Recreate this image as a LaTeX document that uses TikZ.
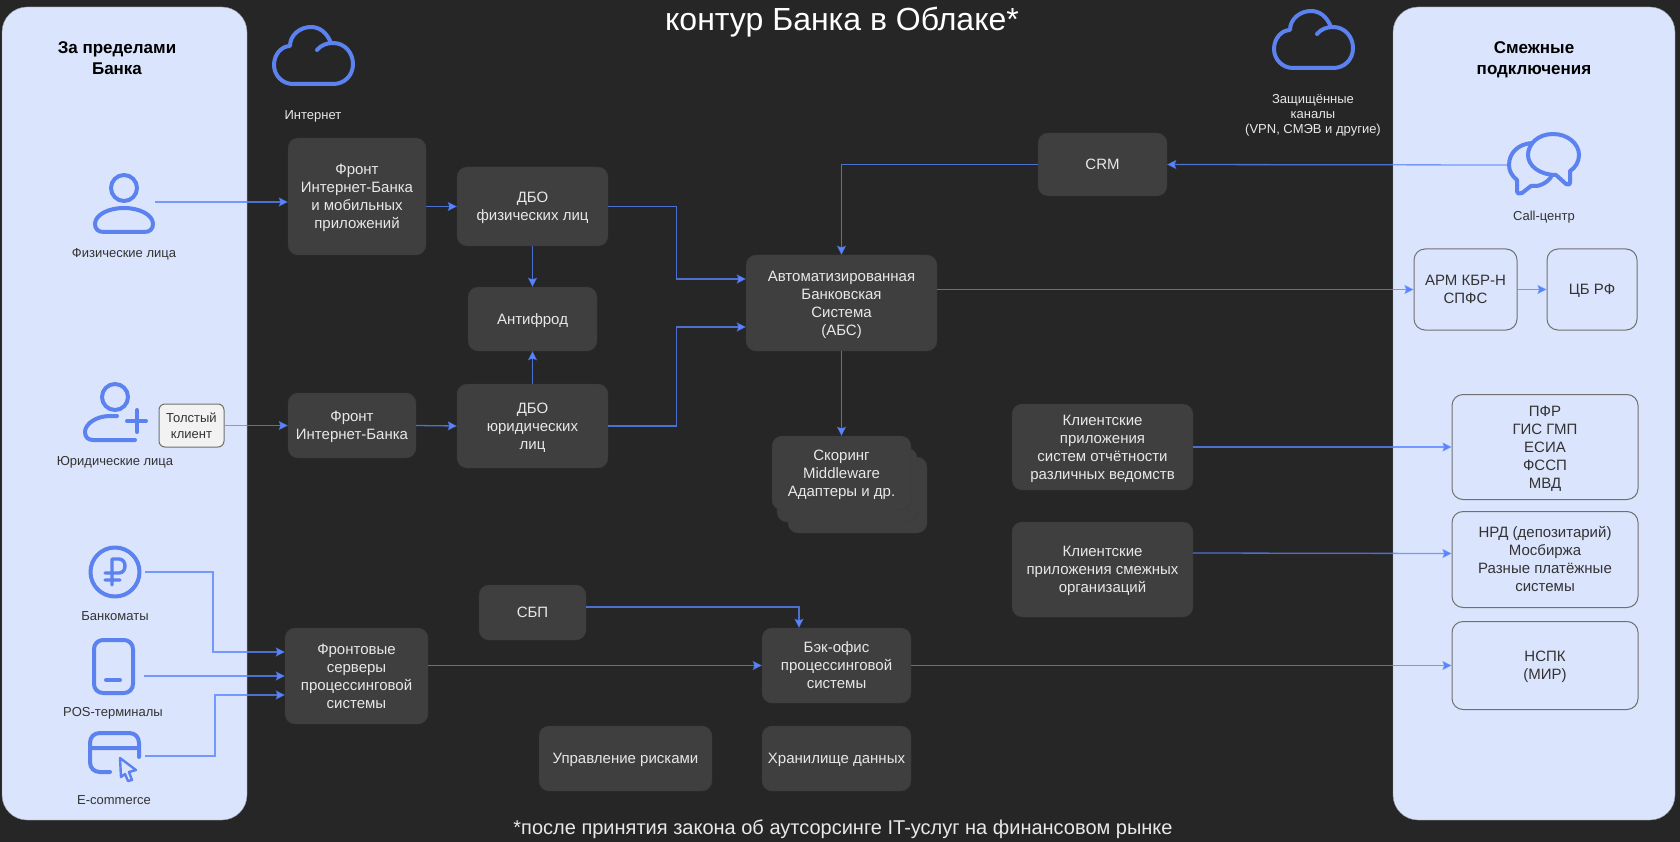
\documentclass[tikz,border=0pt]{standalone}
\usepackage{fontspec}
\setmainfont{Liberation Sans}
\usepackage{xcolor}
\usetikzlibrary{calc,positioning,arrows.meta}
\definecolor{bgdark}{HTML}{262626}
\definecolor{boxgrey}{HTML}{3F3F3F}
\definecolor{boxedge}{HTML}{383838}
\definecolor{boxtext}{HTML}{E8E8E8}
\definecolor{panelblue}{HTML}{DAE4FC}
\definecolor{paneledge}{HTML}{8C919C}
\definecolor{iconblue}{HTML}{5B82EE}
\definecolor{linkblue}{HTML}{5885FF}
\definecolor{darktext}{HTML}{333333}
\tikzset{
  darkbox/.style={draw=boxedge,fill=boxgrey,text=boxtext,rounded corners=10pt,inner sep=0pt,align=center,text height=10.7pt,text depth=0pt,font=\fontsize{15}{18}\selectfont},
  lightbox/.style={draw=darktext!70,line width=1pt,fill=panelblue,text=darktext,rounded corners=11pt,inner sep=0pt,align=center,text height=10.7pt,text depth=0pt,font=\fontsize{15}{18}\selectfont},
  panel/.style={draw=paneledge,fill=panelblue,rounded corners=25pt,inner sep=0pt,minimum width=245pt,minimum height=813pt},
  paneltitle/.style={text=black,align=center,text height=33pt,text depth=0pt,font=\bfseries\fontsize{17}{21}\selectfont},
  iconlabel/.style={text=darktext,text height=9.3pt,text depth=0pt,font=\fontsize{13}{15}\selectfont,align=center},
  darklabel/.style={text=boxtext,text height=9.3pt,text depth=0pt,font=\fontsize{13}{15}\selectfont,align=center},
  iconline/.style={draw=iconblue,line width=4pt,line cap=round,line join=round},
  link/.style={draw=linkblue,draw opacity=.78,line width=1.3pt,-{Stealth[length=9pt,width=9pt,inset=1.5pt]}},
  size/.style 2 args={minimum width=#1pt,minimum height=#2pt},
  lines2/.style={text height=28.7pt},
  lines3/.style={text height=46.7pt},
  lines4/.style={text height=64.7pt},
  lines5/.style={text height=82.7pt},
  cloudicon/.pic={
    \draw[iconline] (44,24) .. controls (48,19) and (54,17) .. (60,17) .. controls (72,17) and (80,27) .. (80,38) .. controls (80,50) and (71,58) .. (60,58) -- (20,58) .. controls (9,58) and (1,49) .. (1,39) .. controls (1,28) and (9,20) .. (17,20) .. controls (17,9) and (27,1) .. (38,1) .. controls (47,1) and (54,7) .. (58,17);
  }
}

\begin{document}
\begin{tikzpicture}[x=1pt,y=-1pt,node distance=100pt]
\useasboundingbox (0,0) rectangle (1680,842);
\fill[bgdark] (0,0) rectangle (1680,842);

\node (panelout) [panel] at (124.5,413.5) {};
\node (panelside) [panel,minimum width=282pt] at (1534,413.5) {};
\node (titleout) [paneltitle] at (117,58) {За пределами\\Банка};
\node (titleside) [paneltitle] at (1534,58) {Смежные\\подключения};
\node (maintitle) [text=white,text height=23pt,text depth=0pt,font=\fontsize{32}{36}\selectfont] at (842,19) {контур Банка в Облаке*};
\node (footnote) [text=boxtext,text height=14.3pt,text depth=0pt,font=\fontsize{20}{24}\selectfont] at (843,827) {*после принятия закона об аутсорсинге IT-услуг на финансовом рынке};

\pic at (273,26) {cloudicon};
\pic at (1273,10) {cloudicon};
\node (netlabel) [darklabel] at (313,115) {Интернет};
\node (safelabel) [darklabel,text height=39.3pt] at (1313,114) {Защищённые\\каналы\\(VPN, СМЭВ и другие)};

\draw[iconline] (124,188) circle (13);
\draw[iconline] (124,208) .. controls (108,208) and (95,215) .. (95,224) .. controls (95,229) and (98,232) .. (104,232) -- (144,232) .. controls (150,232) and (153,229) .. (153,224) .. controls (153,215) and (140,208) .. (124,208) -- cycle;
\node (fizlabel) [iconlabel] at (124,253) {Физические лица};

\draw[iconline] (115,397) circle (13);
\draw[iconline] (117,416) -- (110,416) .. controls (96,416) and (85,424) .. (85,432) .. controls (85,437) and (88,440) .. (93,440) -- (135,440);
\draw[iconline] (127,421) -- (146,421) (137,410) -- (137,432);
\node (yurlabel) [iconlabel] at (115,461) {Юридические лица};
\node (fatclient) [draw=darktext!70,line width=1pt,fill=black!5,text=darktext,rounded corners=6pt,inner sep=0pt,align=center,size={65}{43},text height=25.3pt,text depth=0pt,font=\fontsize{13}{16}\selectfont] at (191.5,425.5) {Толстый\\клиент};

\draw[iconline] (115,572) circle (24.5);
\draw[iconline,line width=3.4pt] (112,585) -- (112,559) -- (119,559) .. controls (127,559) and (127,573) .. (119,573) -- (105,573) (105,580) -- (120,580);
\node (atmlabel) [iconlabel] at (115,616) {Банкоматы};

\draw[iconline,rounded corners=9pt] (94,640) rectangle (133,693);
\draw[iconline] (106,680) -- (120,680);
\node (poslabel) [iconlabel] at (113,712) {POS-терминалы};

\draw[iconline] (110,772) -- (100,772) .. controls (94,772) and (90,768) .. (90,762) -- (90,743) .. controls (90,737) and (94,733) .. (100,733) -- (129,733) .. controls (135,733) and (139,737) .. (139,743) -- (139,757) (90,748) -- (139,748);
\draw[iconline,line width=2.4pt,fill=panelblue] (120,758) -- (136,770) -- (129,772) -- (132,780) -- (128,781) -- (125,774) -- (121,777) -- cycle;
\node (webshoplabel) [iconlabel] at (114,800) {E-commerce};

\draw[iconline] (1532,143) .. controls (1518,144) and (1509,153) .. (1509,165) .. controls (1509,171) and (1512,176) .. (1517,180) -- (1517,191) .. controls (1517,194) and (1520,194) .. (1522,193) -- (1531,186) .. controls (1538,187) and (1546,184) .. (1551,177);
\draw[iconline] (1553,134) .. controls (1568,134) and (1579,144) .. (1579,155) .. controls (1579,162) and (1575,168) .. (1570,171) -- (1570,182) .. controls (1570,185) and (1568,185) .. (1566,184) -- (1556,175) .. controls (1540,175) and (1528,166) .. (1528,155) .. controls (1528,144) and (1538,134) .. (1553,134) -- cycle;
\node (calllabel) [iconlabel] at (1544,216) {Call-центр};

\node (frontmob) [darkbox,lines4,size={138}{117}] at (357,196.5) {Фронт\\Интернет-Банка\\и мобильных\\приложений};
\node (frontur) [darkbox,lines2,size={128}{65},below of=frontmob,xshift=-5,yshift=-129] {Фронт\\Интернет-Банка};
\node (fizdbo) [darkbox,lines2,size={151}{79},right of=frontmob,xshift=75.5,yshift=-10] {ДБО\\физических лиц};
\node (antifrod) [darkbox,size={129}{64},below of=fizdbo,yshift=-12.5] {Антифрод};
\node (yurdbo) [darkbox,lines3,size={151}{84},below of=antifrod,yshift=-7] {ДБО\\юридических\\лиц};
\node (absys) [darkbox,lines4,size={191}{96},right of=fizdbo,xshift=209,yshift=-96.5] {Автоматизированная\\Банковская\\Система\\(АБС)};
\node (crm) [darkbox,size={129}{63},right of=absys,xshift=161,yshift=138.5] {CRM};
\node (scoreback) [darkbox,size={139}{76},below of=absys,xshift=16,yshift=-92] {};
\node (scoremid) [darkbox,size={140}{74},below of=absys,xshift=5.5,yshift=-82] {};
\node (scoring) [darkbox,lines3,size={139}{74},below of=absys,yshift=-70] {Скоринг\\Middleware\\Адаптеры и др.};
\node (clientgov) [darkbox,lines4,size={181}{86},below of=crm,yshift=-182.5] {Клиентские\\приложения\\систем отчётности\\различных ведомств};
\node (clientorg) [darkbox,lines3,size={181}{95},below of=clientgov,yshift=-22.5] {Клиентские\\приложения смежных\\организаций};
\node (frontserv) [darkbox,lines4,size={143}{96},below of=frontur,xshift=4.5,yshift=-150.5] {Фронтовые\\серверы\\процессинговой\\системы};
\node (sbp) [darkbox,size={107}{55},right of=frontserv,xshift=76,yshift=63.5] {СБП};
\node (backoff) [darkbox,lines3,size={149}{75},right of=frontserv,xshift=380,yshift=10.5] {Бэк-офис\\процессинговой\\системы};
\node (storage) [darkbox,size={149}{65},below of=backoff,yshift=7] {Хранилище данных};
\node (risks) [darkbox,size={173}{65},left of=storage,xshift=-111] {Управление рисками};

\node (armbox) [lightbox,lines2,size={103}{81},right of=absys,xshift=524,yshift=13.5] {АРМ КБР-Н\\СПФС};
\node (cbbox) [lightbox,size={90}{81},right of=armbox,xshift=26.5] {ЦБ РФ};
\node (govbox) [lightbox,lines5,size={186}{105},right of=clientgov,xshift=342.5] {ПФР\\ГИС ГМП\\ЕСИА\\ФССП\\МВД};
\node (nrdbox) [lightbox,lines4,size={186}{96},below of=govbox,yshift=-12.5] {НРД (депозитарий)\\Мосбиржа\\Разные платёжные\\системы};
\node (nspkbox) [lightbox,lines2,size={186}{88},below of=nrdbox,yshift=-6] {НСПК\\(МИР)};

\coordinate (fizout) at (155,202);
\coordinate (atmout) at (145,572);
\coordinate (posout) at (144,676);
\coordinate (webout) at (145,756);
\coordinate (callout) at (1508,165);

\draw[link] (fizout) -- (fizout -| frontmob.west);
\draw[link] (fatclient.east) -- (frontur.west);
\draw[link] (frontmob.east |- fizdbo.west) -- (fizdbo.west);
\draw[link] (frontur.east) -- (yurdbo.west);
\draw[link] (fizdbo.south) -- (antifrod.north);
\draw[link] (yurdbo.north) -- (antifrod.south);
\draw[link] (fizdbo.east) -- ++(68,0) |- ([yshift=24pt]absys.west);
\draw[link] (yurdbo.east) -- ++(68,0) |- ([yshift=-24pt]absys.west);
\draw[link] (callout) -- (crm.east);
\draw[link] (crm.west) -| (absys.north);
\draw[link] (absys.south) -- (scoring.north);
\draw[link] (absys.east |- armbox.west) -- (armbox.west);
\draw[link] (armbox.east) -- (cbbox.west);
\draw[link] (clientgov.east) -- (govbox.west);
\draw[link] ([yshift=16.5pt]clientorg.east) -- ([yshift=6pt]nrdbox.west);
\draw[link] (sbp.east |- 0,607) -| ([xshift=-37.5pt]backoff.north);
\draw[link] (frontserv.east |- backoff.west) -- (backoff.west);
\draw[link] (backoff.east) -- (nspkbox.west);
\draw[link] (atmout) -- ++(68,0) |- ([yshift=24pt]frontserv.west);
\draw[link] (posout) -- (posout -| frontserv.west);
\draw[link] (webout) -- ++(70,0) |- ([yshift=-19pt]frontserv.west);
\end{tikzpicture}
\end{document}
